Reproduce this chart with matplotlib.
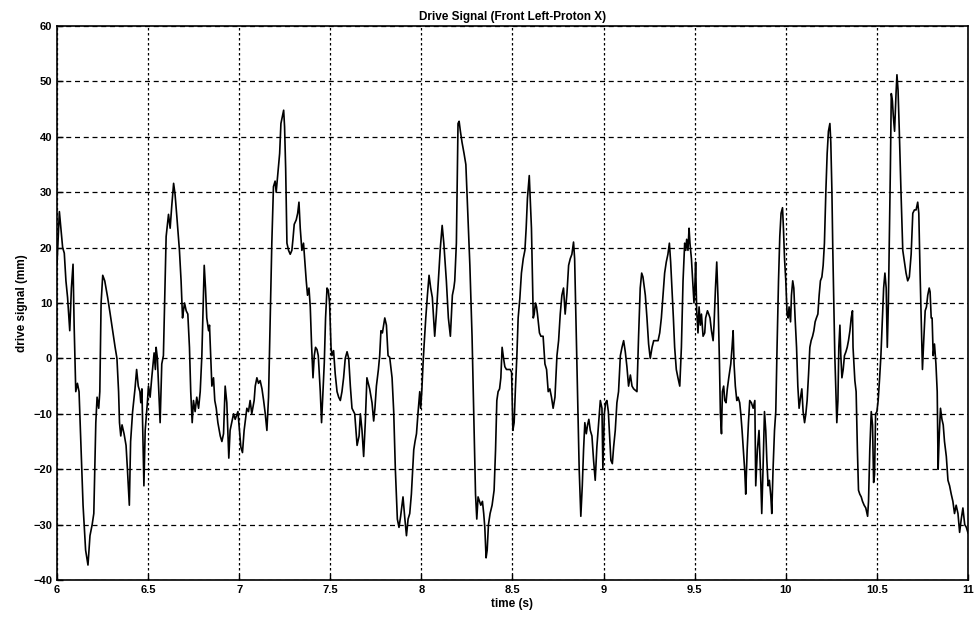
import matplotlib
matplotlib.use("Agg")
import matplotlib.pyplot as plt
from matplotlib.ticker import FixedLocator

title = "Drive Signal (Front Left-Proton X)"
xlabel = "time (s)"
ylabel = "drive signal (mm)"
xticks = [6, 6.5, 7, 7.5, 8, 8.5, 9, 9.5, 10, 10.5, 11]
xticklabels = ["6", "6.5", "7", "7.5", "8", "8.5", "9", "9.5", "10", "10.5", "11"]
yticks = [-40, -30, -20, -10, 0, 10, 20, 30, 40, 50, 60]

time_s = [
    6.000, 6.013, 6.031, 6.040, 6.049, 6.058, 6.070, 6.079, 6.088, 6.094, 6.103, 6.112, 6.121,
    6.143, 6.157, 6.170, 6.181, 6.193, 6.202, 6.213, 6.220, 6.229, 6.235, 6.242, 6.251, 6.262,
    6.278, 6.292, 6.310, 6.319, 6.329, 6.338, 6.343, 6.350, 6.357, 6.368, 6.379, 6.386, 6.397,
    6.404, 6.415, 6.428, 6.437, 6.446, 6.455, 6.460, 6.466, 6.477, 6.484, 6.491, 6.496, 6.502,
    6.511, 6.520, 6.533, 6.540, 6.544, 6.551, 6.566, 6.575, 6.584, 6.599, 6.612, 6.621, 6.630,
    6.640, 6.648, 6.658, 6.672, 6.681, 6.689, 6.694, 6.700, 6.709, 6.718, 6.727, 6.734, 6.742,
    6.749, 6.758, 6.767, 6.777, 6.786, 6.795, 6.808, 6.815, 6.822, 6.832, 6.837, 6.850, 6.859,
    6.866, 6.874, 6.883, 6.896, 6.905, 6.914, 6.923, 6.932, 6.943, 6.950, 6.959, 6.969, 6.978,
    6.993, 7.009, 7.018, 7.027, 7.042, 7.051, 7.060, 7.069, 7.082,
    7.088, 7.097, 7.106, 7.115, 7.125, 7.134, 7.143, 7.152, 7.161, 7.170, 7.179, 7.188, 7.197,
    7.203, 7.211, 7.222, 7.229, 7.238, 7.244, 7.249, 7.255, 7.262, 7.271, 7.280, 7.289, 7.295,
    7.302, 7.313, 7.321, 7.328, 7.335, 7.344, 7.353, 7.359, 7.368, 7.375, 7.383, 7.390, 7.397,
    7.405, 7.412, 7.419, 7.427, 7.434, 7.445, 7.452, 7.460, 7.467, 7.474, 7.482, 7.489, 7.496,
    7.504, 7.509, 7.518, 7.527, 7.537, 7.546, 7.555, 7.564, 7.573, 7.582, 7.592, 7.601, 7.610,
    7.619,
    7.634, 7.647, 7.658, 7.665, 7.674, 7.683, 7.692, 7.701, 7.716, 7.729, 7.738, 7.745, 7.753,
    7.764, 7.771, 7.778, 7.786, 7.799, 7.808, 7.817, 7.826, 7.839, 7.848, 7.857, 7.868, 7.877,
    7.886, 7.899, 7.908, 7.918, 7.927, 7.936, 7.945, 7.958, 7.965, 7.973, 7.982, 7.991, 7.996,
    8.002, 8.009, 8.015, 8.024, 8.033, 8.042, 8.051, 8.060, 8.073, 8.082, 8.093, 8.104, 8.114,
    8.123, 8.137, 8.148, 8.159, 8.170, 8.178, 8.183, 8.192,
    8.201, 8.207, 8.214, 8.223, 8.234, 8.244, 8.253, 8.266, 8.278, 8.289, 8.297, 8.304, 8.311,
    8.319, 8.326, 8.335, 8.342, 8.348, 8.355, 8.361, 8.368, 8.377, 8.388, 8.399, 8.407, 8.414,
    8.421, 8.429, 8.436, 8.443, 8.451, 8.458, 8.467, 8.476, 8.487, 8.495, 8.502, 8.509, 8.516,
    8.524, 8.531, 8.540, 8.549, 8.559, 8.568, 8.575, 8.582, 8.592, 8.597, 8.604, 8.614, 8.619,
    8.626, 8.632, 8.637, 8.648, 8.656, 8.668, 8.678, 8.687, 8.696, 8.705, 8.714, 8.723, 8.733,
    8.744, 8.753, 8.762, 8.771, 8.780, 8.789, 8.799, 8.808, 8.817, 8.826, 8.835, 8.841, 8.848,
    8.857, 8.866, 8.875, 8.883, 8.890, 8.897, 8.905, 8.912, 8.919, 8.927, 8.936, 8.945, 8.954,
    8.963, 8.973, 8.982, 8.991, 8.996, 9.004, 9.011, 9.018, 9.026, 9.033, 9.040, 9.048, 9.055,
    9.064, 9.073, 9.082, 9.092, 9.101, 9.110, 9.119, 9.128, 9.137, 9.147, 9.156, 9.165, 9.183,
    9.192, 9.201, 9.209, 9.216, 9.229, 9.238, 9.247, 9.256, 9.266, 9.275,
    9.299, 9.308, 9.317, 9.326, 9.335, 9.344, 9.353, 9.361, 9.368, 9.375, 9.383, 9.390, 9.399,
    9.408, 9.418, 9.427, 9.436, 9.445, 9.451, 9.456, 9.463, 9.469, 9.474, 9.482, 9.491, 9.496,
    9.502, 9.505, 9.511, 9.518, 9.524, 9.531, 9.537, 9.546, 9.555, 9.560, 9.570, 9.577, 9.584,
    9.592, 9.601, 9.606, 9.614, 9.621, 9.628, 9.636, 9.641, 9.647, 9.652, 9.659, 9.665, 9.672,
    9.679, 9.687, 9.698, 9.705, 9.711, 9.716, 9.723, 9.731, 9.738, 9.747, 9.753, 9.760, 9.767,
    9.775, 9.780, 9.788, 9.795, 9.802, 9.811, 9.821, 9.830,
    9.835, 9.844, 9.853, 9.863, 9.868, 9.875, 9.883, 9.890, 9.896, 9.903, 9.910, 9.918, 9.923,
    9.930, 9.938, 9.945, 9.952, 9.960, 9.967, 9.974, 9.982, 9.987, 9.993, 10.000, 10.007, 10.013,
    10.018, 10.026, 10.031, 10.038, 10.044, 10.051, 10.059, 10.066, 10.073, 10.081, 10.088,
    10.095, 10.103, 10.110, 10.117, 10.125, 10.132, 10.139, 10.147, 10.154, 10.161, 10.168,
    10.176, 10.183, 10.190, 10.198, 10.205, 10.212, 10.220, 10.227, 10.234, 10.242, 10.247,
    10.253, 10.258, 10.264, 10.269, 10.275, 10.280, 10.286, 10.291, 10.297, 10.302, 10.308,
    10.315, 10.322, 10.330, 10.337, 10.344, 10.352, 10.359, 10.366,
    10.369, 10.379, 10.386, 10.393, 10.399, 10.406, 10.414, 10.421, 10.430, 10.439, 10.449,
    10.454, 10.461, 10.469, 10.476, 10.482, 10.487, 10.493, 10.500, 10.507, 10.515, 10.522,
    10.529, 10.537, 10.544, 10.551, 10.557, 10.563, 10.568, 10.574, 10.579, 10.585, 10.590,
    10.597, 10.605, 10.610, 10.616, 10.623, 10.632, 10.642, 10.651, 10.660, 10.669, 10.678,
    10.688, 10.697, 10.706, 10.715, 10.724, 10.730, 10.737, 10.743, 10.750, 10.757, 10.765,
    10.772, 10.779, 10.787, 10.792, 10.798, 10.803, 10.809, 10.816, 10.824, 10.831, 10.836,
    10.842, 10.849, 10.857, 10.864, 10.871, 10.881, 10.890, 10.899, 10.908, 10.917, 10.926,
    10.935, 10.945, 10.954, 10.963, 10.972, 10.982, 10.991, 11.000,
]

drive_mm = [
    17, 26.5, 20, 19, 14, 11, 5, 12.7, 17, 6, -6, -4.5, -6,
    -26.5, -34.6, -37.3, -32, -30, -28, -11.6, -7, -9, -6, 10, 15, 14,
    11, 8, 4, 2, 0, -6, -11.6, -14, -12, -13.6, -15.7, -19.7, -26.5,
    -15, -9.6, -5.5, -2, -5, -6, -8, -5.5, -23, -13, -10, -8, -5,
    -7, -3.5, 1, -2, 2, 0, -11.6, -1, 0.5, 22, 26, 23.5, 27.6,
    31.6, 29.6, 25.5, 19.5, 14, 7.3, 8.6, 10, 8.6, 8, 2, -6, -11.6,
    -7.6, -9.6, -7, -9, -6, 0.5, 16.8, 12.7, 7.3, 5, 6, -5, -3.5,
    -7.6, -9, -11.6, -14, -15, -13.6, -5, -8, -18, -13, -11.6, -10, -11,
    -9.6, -16, -17, -13, -9, -9.6, -7.6, -10, -7.6,
    -5, -3.5, -4.5, -4, -5.5, -7.6, -10, -13, -7, 7.3, 20.8, 31, 32,
    30, 33, 37, 42.4, 43.8, 44.8, 41.8, 34.3, 20.8, 19.5, 18.8, 19.5, 21.5,
    24.2, 25, 26.2, 28.2, 23.5, 19.5, 20.8, 18, 14, 11.4, 12.7, 9.3, 2.6,
    -3.5, 0.5, 2, 1.6, 0.5, -6, -11.6, -6, -0.8, 7.3, 12.7, 12.3, 10,
    2, 0.5, 1.4, -2.8, -6, -7, -7.6, -6, -3.5, 0, 1.2, 0, -5,
    -9,
    -10, -15.7, -14, -10, -13, -17.7, -11.6, -3.5, -5.5, -8, -11.3, -9, -5,
    -2, 0.5, 5, 4.6, 7.3, 6, 0.5, 0.2, -3.5, -9.6, -20, -29, -30.5,
    -28.5, -25, -28.5, -32, -29, -28, -24.5, -16.5, -15, -13.6, -9.6, -6, -9,
    -6, -1, 2.5, 7.3, 11.4, 15, 12.7, 11, 4, 8, 14, 20, 24,
    20.8, 14, 7.3, 4, 11.4, 12.7, 14, 20.8,
    42.4, 42.8, 41, 39, 37, 35, 27.6, 16.8, 4, -13, -24.5, -29, -25,
    -25.8, -26.5, -25.8, -28, -30.5, -36, -34.6, -30, -28, -26.5, -23.8, -16.5, -7.6,
    -6, -5.5, -3.5, 2, 0, -1.5, -2, -2, -2, -2.5, -13, -11.6, -5.5,
    0.5, 7.3, 10.7, 15.4, 18, 19.5, 23.5, 28.9, 33, 29, 23.5, 7.3, 8,
    10, 9.3, 8, 4.6, 4, 4, -1, -2, -6, -5.5, -7, -9, -7,
    0.5, 3.2, 8, 11.4, 12.7, 8, 11.8, 16.8, 18, 18.8, 21, 18, 7.3,
    -6, -20, -28.5, -23, -16.5, -11.6, -13.6, -12, -11, -13, -14, -18.4, -22,
    -16, -11.6, -7.6, -9, -20, -10, -8, -7.6, -9.6, -14, -18.4, -19, -16,
    -13, -8, -6, 0.5, 2, 3.2, 1.2, -1.5, -5, -3, -5, -5.5, -6,
    4, 12.7, 15.4, 14.7, 11.4, 7.3, 2.6, 0, 2, 3.2,
    3.2, 4.6, 7.3, 11.4, 15.4, 17.4, 18.8, 20.8, 17.4, 12.7, 7.3, 2, -2,
    -3.5, -5, 2, 14, 20.8, 19.5, 21.5, 19.5, 23.5, 20.8, 18, 12.7, 10,
    14, 17.4, 8.6, 4.6, 9.3, 6, 8, 4, 4.6, 7.3, 8.6, 8, 7.3,
    5, 3.2, 6, 12.7, 17.4, 10.7, -1, -10, -13.6, -6, -5, -7.6, -8,
    -5.5, -3.5, -1, 2, 5, -1, -5, -7.6, -7, -8, -10, -13, -16.5,
    -20.5, -24.5, -16.5, -11.6, -7.6, -8, -9, -7.6,
    -23, -16.5, -13, -22.4, -28, -20, -9.6, -13, -18.4, -23, -22, -25, -28,
    -20, -13, -9.6, 2, 14, 22, 26.2, 27.2, 23.5, 18, 14, 8, 7.3,
    9.3, 6.6, 11.4, 14, 12.7, 7.3, 2, -5, -9, -7, -5.5,
    -9.6, -11.6, -10, -7.6, -2.8, 2, 3.2, 4, 5, 6.6, 7.3,
    8, 11.4, 14, 14.7, 16.8, 20.8, 30.3, 37, 41, 42.4, 39,
    30.3, 19.5, 8.6, 0.5, -6, -11.6, -7.6, 2, 6, 0.5, -3.5,
    -2, 0.5, 1.2, 2, 3.2, 5, 7.3, 8.6,
    2, -4, -6, -16.5, -23.8, -24.5, -25, -25.8, -26.5, -27, -28.5,
    -25.8, -16.5, -9.6, -12, -22.4, -21, -10, -9.6, -7.6, -3.5, 0.5,
    6, 12.7, 15.4, 12.7, 2, 10, 20.8, 34.3, 47.8, 46.5, 43.8,
    41, 47.8, 51.2, 48.5, 41, 30.3, 19.5, 17.4, 15.4, 14, 14.7,
    18.8, 26.2, 26.8, 26.8, 28.2, 26.2, 15.4, 7.3, -2, 3.2, 8.6,
    9.3, 11.4, 12.7, 12, 7.3, 7.3, 0.5, 2.6, -1, -6, -20,
    -14, -9, -11, -12, -15, -17.7, -22, -23, -24.5, -25.8, -28,
    -26.5, -28, -31.4, -29, -27, -30, -30.5, -31.5,
]

plt.rcParams['font.family'] = ['Liberation Sans', 'DejaVu Sans']

fig = plt.figure(figsize=(9.79, 6.17), dpi=100)
ax = fig.add_axes([57 / 979, 1 - 580 / 617, (968 - 57) / 979, (580 - 26) / 617])

ax.plot(time_s, drive_mm, color='black', linewidth=1.2)

ax.set_xlim(6, 11)
ax.set_ylim(-40, 60)
ax.xaxis.set_major_locator(FixedLocator(xticks))
ax.set_xticklabels(xticklabels)
ax.yaxis.set_major_locator(FixedLocator(yticks))

ax.xaxis.grid(True, color='black', linestyle=(0, (2, 2)), linewidth=0.9)
ax.yaxis.grid(True, color='black', linestyle=(0, (4, 3)), linewidth=0.9)
ax.tick_params(direction='in', length=4, labelsize=8, width=1)
for lbl in ax.get_xticklabels() + ax.get_yticklabels():
    lbl.set_fontweight('bold')
for sp in ax.spines.values():
    sp.set_linewidth(1.2)

ax.set_title(title, fontsize=8.5, fontweight='bold', pad=4)
ax.set_xlabel(xlabel, fontsize=8.5, fontweight='bold', labelpad=2)
ax.set_ylabel(ylabel, fontsize=8.5, fontweight='bold', labelpad=4)

fig.savefig("out.png", dpi=100)
